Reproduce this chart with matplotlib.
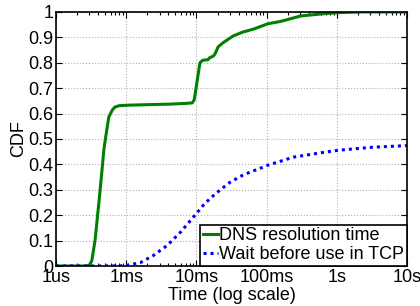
import numpy as np
import matplotlib
matplotlib.use("Agg")
import matplotlib.pyplot as plt
from matplotlib.ticker import FixedLocator, LogLocator, NullFormatter

plt.rcParams['font.family'] = ['Liberation Sans', 'DejaVu Sans']

# DNS resolution time CDF (log10 seconds, cdf)
dns_logt = [-4.0, -3.56, -3.52, -3.49, -3.444, -3.40, -3.345, -3.32, -3.30, -3.27, -3.25,
            -3.20, -3.16, -3.10, -2.99, -2.5, -2.2, -2.06, -2.03, -1.99, -1.95, -1.91,
            -1.835, -1.81, -1.76, -1.735, -1.69, -1.62, -1.48, -1.35, -1.19, -0.99, -0.81,
            -0.52, -0.24, 0.0, 0.3, 1.0]
dns_cdf = [0.0, 0.0, 0.005, 0.02, 0.10, 0.217, 0.375, 0.455, 0.494, 0.546, 0.585,
           0.613, 0.626, 0.631, 0.633, 0.636, 0.639, 0.642, 0.655, 0.73, 0.80, 0.81,
           0.812, 0.82, 0.826, 0.835, 0.863, 0.879, 0.905, 0.92, 0.932, 0.953, 0.962,
           0.984, 0.992, 0.997, 1.0, 1.0]

# Wait before use in TCP CDF
tcp_logt = [-4.0, -3.1, -2.99, -2.80, -2.62, -2.42, -2.23, -2.05, -1.91, -1.81, -1.66,
            -1.52, -1.34, -1.0, -0.63, -0.25, 0.0, 0.47, 1.0]
tcp_cdf = [0.0, 0.0, 0.003, 0.013, 0.04, 0.08, 0.132, 0.19, 0.237, 0.265, 0.30,
           0.33, 0.358, 0.395, 0.428, 0.445, 0.455, 0.467, 0.474]

xtick_vals = [1e-4, 1e-3, 1e-2, 1e-1, 1, 10]
xtick_labels = ['1us', '1ms', '10ms', '100ms', '1s', '10s']
ytick_vals = [0, 0.1, 0.2, 0.3, 0.4, 0.5, 0.6, 0.7, 0.8, 0.9, 1]
ytick_labels = ['0', '0.1', '0.2', '0.3', '0.4', '0.5', '0.6', '0.7', '0.8', '0.9', '1']

fig = plt.figure(figsize=(4.2, 3.06), dpi=100)
ax = fig.add_axes([0.1333, 0.1307, 0.836, 0.8303])

def dense(lx, y):
    lx = np.asarray(lx); y = np.asarray(y)
    xs = np.linspace(lx[0], lx[-1], 800)
    return 10 ** xs, np.interp(xs, lx, y)

x1, y1 = dense(dns_logt, dns_cdf)
x2, y2 = dense(tcp_logt, tcp_cdf)
ax.plot(x1, y1, color=(0, 0.5, 0), lw=2.2, label='DNS resolution time')
ax.plot(x2, y2, color=(0, 0, 1), lw=2.2, linestyle=(0, (1, 1.3)), label='Wait before use in TCP')

ax.set_xscale('log')
ax.set_xlim(1e-4, 10)
ax.set_ylim(0, 1)
ax.xaxis.set_major_locator(FixedLocator(xtick_vals))
ax.set_xticklabels(xtick_labels)
ax.xaxis.set_minor_locator(LogLocator(base=10, subs=np.arange(2, 10)))
ax.xaxis.set_minor_formatter(NullFormatter())
ax.set_yticks(ytick_vals)
ax.set_yticklabels(ytick_labels)

ax.tick_params(which='both', direction='in', top=True, right=True, labelsize=13, width=0.8)
ax.tick_params(which='major', length=4, pad=2)
ax.tick_params(which='minor', length=2)
ax.grid(True, which='major', color='#b0b0b0', linestyle=':', linewidth=0.8)
for s in ax.spines.values():
    s.set_linewidth(1.2)

ax.set_xlabel('Time (log scale)', fontsize=13, labelpad=1)
ax.set_ylabel('CDF', fontsize=13, labelpad=1)

leg = ax.legend(loc='lower right', fontsize=13, borderaxespad=0, fancybox=False,
                edgecolor='black', framealpha=1, handlelength=0.8, handletextpad=0.1,
                borderpad=0.15, labelspacing=0.1)
leg.get_frame().set_linewidth(1.2)

fig.savefig('out.png', dpi=100)
